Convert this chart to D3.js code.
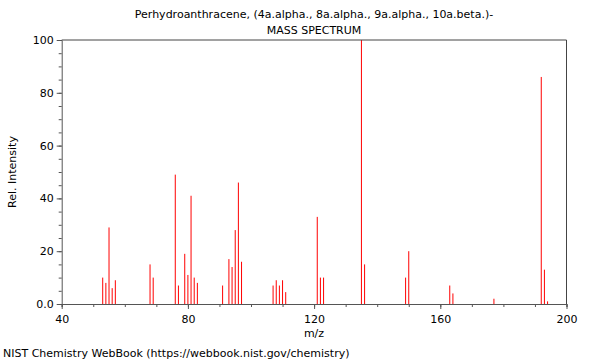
<!DOCTYPE html>
<html><head><meta charset="utf-8">
<script src="https://cdn.jsdelivr.net/npm/d3@7"></script>
<style>body{margin:0;background:#fff}svg{display:block}text{font-family:"DejaVu Sans",sans-serif;font-size:11px;fill:#000}</style>
</head><body><svg id="c" width="600" height="360"></svg>
<script>
const titleLines = ["Perhydroanthracene, (4a.alpha., 8a.alpha., 9a.alpha., 10a.beta.)-", "MASS SPECTRUM"];
const mzValues = [53,54,55,56,57,68,69,76,77,79,80,81,82,83,91,93,94,95,96,97,107,108,109,110,111,121,122,123,135,136,149,150,163,164,177,192,193,194];
const intensities = [10,8,29,6,9,15,10,49,7,19,11,41,10,8,7,17,14,28,46,16,7,9,7,9,4.5,33,10,10,100,15,10,20,7,4,2,86,13,1];
const xTicks = [40,80,120,160,200];
const yTicks = [0,20,40,60,80,100];
const yTickLabels = ["0.0","20","40","60","80","100"];

const svg = d3.select("#c");
const L = 61.7, R = 566.5, T = 40, B = 304;
const x = d3.scaleLinear().domain([40,200]).range([L,R]);
const y = d3.scaleLinear().domain([0,100]).range([B,T]);

// bars
svg.append("g").selectAll("line").data(mzValues).join("line")
  .attr("x1", d=>x(d)).attr("x2", d=>x(d))
  .attr("y1", y(0)).attr("y2", (d,i)=>y(intensities[i]))
  .attr("stroke", "#ff0000").attr("stroke-width", 1);

// frame top/right
svg.append("path").attr("d", `M${L},${T}H${R}V${B}`).attr("fill","none").attr("stroke","#444").attr("stroke-width",1);

// x axis
const gx = svg.append("g").attr("transform", `translate(0,${B})`);
gx.call(d3.axisBottom(x).tickValues(d3.range(40,201,10)).tickSize(3).tickFormat(""))
  .call(g=>g.select(".domain").attr("stroke","#555"));
gx.append("g").call(d3.axisBottom(x).tickValues(xTicks).tickSize(5).tickPadding(4).tickFormat(d3.format("d")))
  .call(g=>g.select(".domain").remove())
  .call(g=>g.selectAll("text").attr("font-size",11).attr("font-family","DejaVu Sans").attr("fill","#000").attr("dy","0.9em"))
  .call(g=>g.selectAll("line").attr("stroke","#555"));
gx.selectAll("line").attr("stroke","#555");

// y axis
const gy = svg.append("g").attr("transform", `translate(${L},0)`);
gy.call(d3.axisLeft(y).tickValues(d3.range(0,101,5)).tickSize(3).tickFormat(""))
  .call(g=>g.select(".domain").attr("stroke","#555"));
gy.append("g").call(d3.axisLeft(y).tickValues(yTicks).tickSize(5).tickPadding(3).tickFormat((d,i)=>yTickLabels[i]))
  .call(g=>g.select(".domain").remove())
  .call(g=>g.selectAll("text").attr("font-size",11).attr("font-family","DejaVu Sans").attr("fill","#000"));
gy.selectAll("line").attr("stroke","#555");

// titles
svg.append("text").attr("x", 314).attr("y", 18).attr("text-anchor","middle").text(titleLines[0]);
svg.append("text").attr("x", 314).attr("y", 34).attr("text-anchor","middle").text(titleLines[1]);
svg.append("text").attr("x", 314).attr("y", 337).attr("text-anchor","middle").text("m/z");
svg.append("text").attr("transform", "translate(16,172) rotate(-90)").attr("text-anchor","middle").text("Rel. Intensity");
svg.append("text").attr("x", 3).attr("y", 357).text("NIST Chemistry WebBook (https://webbook.nist.gov/chemistry)");
</script></body></html>
